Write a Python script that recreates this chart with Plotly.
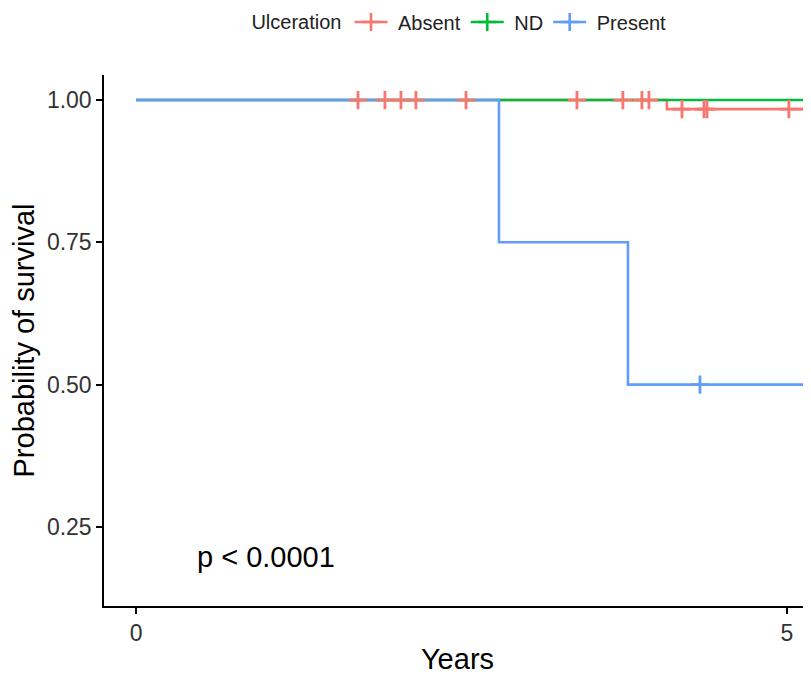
import plotly.graph_objects as go

# ---- data (years, survival probability) ----
absent_t = [0, 4.078]
absent_s = [1.0, 0.984]
absent_end = 5.25
absent_cens_t = [1.705, 1.912, 2.035, 2.150, 2.535, 3.387, 3.740, 3.886, 3.940,
                 4.194, 4.363, 4.386, 5.015, 5.161]
absent_cens_s = [1.0, 1.0, 1.0, 1.0, 1.0, 1.0, 1.0, 1.0, 1.0,
                 0.984, 0.984, 0.984, 0.984, 0.984]

nd_t = [0]
nd_s = [1.0]
nd_end = 5.25

present_t = [0, 2.788, 3.779]
present_s = [1.0, 0.75, 0.50]
present_end = 5.25
present_cens_t = [4.332]
present_cens_s = [0.50]

groups = ["Absent", "ND", "Present"]
legend_names = ["\u00a0Absent", "\u00a0ND", "\u00a0Present"]
colors = {"Absent": "#F8766D", "ND": "#00BA38", "Present": "#619CFF"}

FONT = "Liberation Sans, Arial, sans-serif"

fig = go.Figure()

def step(ts, ss, end):
    return ts + [end], ss + [ss[-1]]

curves = {
    "Absent": step(absent_t, absent_s, absent_end),
    "ND": step(nd_t, nd_s, nd_end),
    "Present": step(present_t, present_s, present_end),
}
for g in groups:
    x, y = curves[g]
    fig.add_trace(go.Scatter(x=x, y=y, mode="lines", line=dict(color=colors[g], width=2.6, shape="hv"),
                             showlegend=False, hoverinfo="skip"))

cens = {
    "Absent": (absent_cens_t, absent_cens_s),
    "Present": (present_cens_t, present_cens_s),
}
for g, (x, y) in cens.items():
    fig.add_trace(go.Scatter(x=x, y=y, mode="markers",
                             marker=dict(symbol="cross-thin", size=13, line=dict(color=colors[g], width=2.8)),
                             showlegend=False, hoverinfo="skip"))

# legend entries
for g, nm in zip(groups, legend_names):
    fig.add_trace(go.Scatter(x=[None], y=[None], mode="lines+markers", name=nm,
                             line=dict(color=colors[g], width=2.6),
                             marker=dict(symbol="cross-thin", size=13, line=dict(color=colors[g], width=2.6))))

fig.add_annotation(x=0.45, y=0.197, xref="x", yref="y", text="p < 0.0001", showarrow=False,
                   xanchor="left", yanchor="middle", font=dict(family=FONT, size=29, color="black"))

# page body has an 8px margin, so the figure is drawn 8px smaller and offset accordingly
fig.update_layout(
    width=803, height=667,
    margin=dict(l=96, r=0, t=67, b=69, autoexpand=False),
    paper_bgcolor="white", plot_bgcolor="white",
    font=dict(family=FONT, color="black"),
    legend=dict(orientation="h", x=0.2057, xanchor="left", y=1.0998, yanchor="middle",
                title=dict(text="Ulceration", font=dict(family=FONT, size=20, color="#222222")),
                font=dict(family=FONT, size=20, color="#222222"), itemwidth=33),
    xaxis=dict(range=[-0.246, 5.185], tickvals=[0, 5], ticktext=["0", "5"],
               showgrid=False, zeroline=False, showline=True, linecolor="black", linewidth=1.5,
               ticks="outside", ticklen=6, tickwidth=1.5, tickcolor="black",
               tickfont=dict(family=FONT, size=23, color="#333333"),
               title=dict(text="Years", font=dict(family=FONT, size=29, color="black"), standoff=10)),
    yaxis=dict(range=[0.111, 1.044], tickvals=[0.25, 0.5, 0.75, 1.0],
               ticktext=["0.25", "0.50", "0.75", "1.00"],
               showgrid=False, zeroline=False, showline=True, linecolor="black", linewidth=1.5,
               ticks="outside", ticklen=6, tickwidth=1.5, tickcolor="black",
               tickfont=dict(family=FONT, size=23, color="#333333"),
               title=dict(text="Probability of survival", font=dict(family=FONT, size=29, color="black"), standoff=8)),
)

fig.write_html("out.html")
